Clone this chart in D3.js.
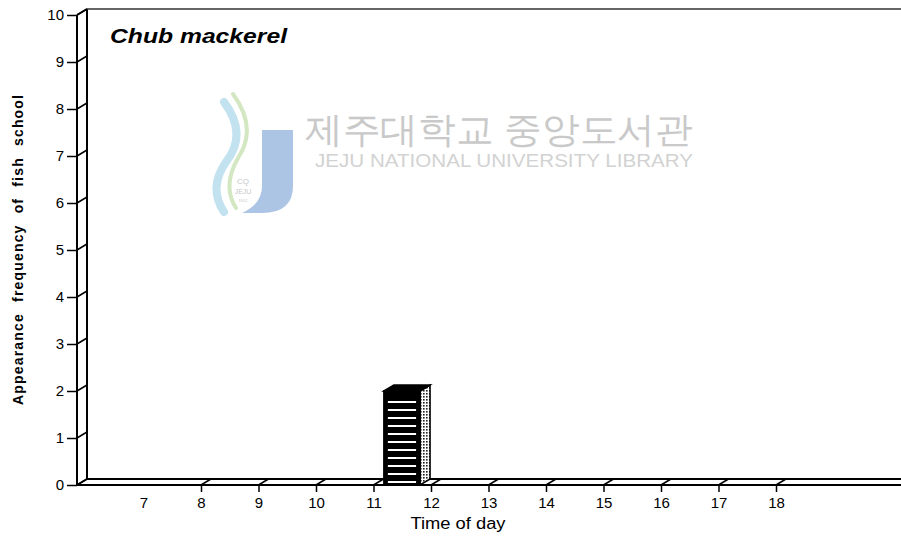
<!DOCTYPE html>
<html>
<head>
<meta charset="utf-8">
<script src="https://cdn.jsdelivr.net/npm/d3@7/dist/d3.min.js"></script>
<style>
  html, body { margin: 0; padding: 0; background: #fff; }
  svg { display: block; }
  text { font-family: "Liberation Sans", Arial, sans-serif; }
</style>
</head>
<body>
<svg id="chart" width="901" height="541"></svg>
<script>
// ---- data ----
const hours = [7, 8, 9, 10, 11, 12, 13, 14, 15, 16, 17, 18];
const counts = [0, 0, 0, 0, 2, 0, 0, 0, 0, 0, 0, 0]; // fish schools per hour bin [h, h+1)
const yTickValues = [0, 1, 2, 3, 4, 5, 6, 7, 8, 9, 10];
const title = "Chub  mackerel";
const xLabel = "Time of day";
const yLabel = "Appearance frequency of fish school";

// ---- layout ----
const W = 901, H = 541;
const svg = d3.select("#chart");
const x0 = 77, yBase = 485;
const depthX = 10, depthY = -6;

const x = d3.scaleLinear().domain([6, 20]).range([86, 891]);
const y = d3.scaleLinear().domain([0, 10]).range([yBase, 15]);

// ---- watermark ----
const wm = svg.append("g").attr("class", "watermark");
wm.append("path")
  .attr("d", "M224,102 Q248,134 226,162 Q208,188 224,212")
  .attr("fill", "none").attr("stroke", "#c3e2f0").attr("stroke-width", 8).attr("stroke-linecap", "round");
wm.append("path")
  .attr("d", "M233,94 Q258,128 238,158 Q222,186 236,208")
  .attr("fill", "none").attr("stroke", "#d2e7c2").attr("stroke-width", 4).attr("stroke-linecap", "round");
wm.append("path")
  .attr("d", "M262,130 L293,130 L293,186 Q293,213 262,213 L242,213 Q262,204 262,186 Z")
  .attr("fill", "#adc5e4");
wm.append("text").attr("x", 243).attr("y", 184).attr("text-anchor", "middle")
  .attr("font-size", 8).attr("fill", "#c8c8c8").text("CQ");
wm.append("text").attr("x", 243).attr("y", 194).attr("text-anchor", "middle")
  .attr("font-size", 7).attr("fill", "#c8c8c8").text("JEJU");
wm.append("text").attr("x", 243).attr("y", 202).attr("text-anchor", "middle")
  .attr("font-size", 4).attr("fill", "#c8c8c8").text("1952");
wm.append("text").attr("x", 305).attr("y", 142)
  .attr("font-family", "'Noto Sans CJK KR', sans-serif")
  .attr("font-size", 36).attr("fill", "#c9c9c9")
  .attr("textLength", 388).attr("lengthAdjust", "spacingAndGlyphs")
  .text("제주대학교 중앙도서관");
wm.append("text").attr("x", 315).attr("y", 167)
  .attr("font-size", 18).attr("fill", "#d2d2d2")
  .attr("textLength", 378).attr("lengthAdjust", "spacingAndGlyphs")
  .text("JEJU NATIONAL UNIVERSITY  LIBRARY");

// ---- patterns ----
const defs = svg.append("defs");
const stripe = defs.append("pattern").attr("id", "stripes")
  .attr("patternUnits", "userSpaceOnUse").attr("width", 8).attr("height", 8);
stripe.append("rect").attr("width", 8).attr("height", 8).attr("fill", "#000");
stripe.append("rect").attr("y", 0).attr("width", 8).attr("height", 2).attr("fill", "#fff");
const dots = defs.append("pattern").attr("id", "dots")
  .attr("patternUnits", "userSpaceOnUse").attr("width", 3).attr("height", 3);
dots.append("rect").attr("width", 3).attr("height", 3).attr("fill", "#fff");
dots.append("rect").attr("width", 1.6).attr("height", 1.6).attr("fill", "#222");

// ---- frame (3-D walls) ----
const frame = svg.append("g").attr("stroke", "#000").attr("fill", "none");
frame.append("line").attr("x1", x0 + depthX).attr("x2", x0 + depthX)
  .attr("y1", y(10) + depthY).attr("y2", yBase + depthY).attr("stroke-width", 2);
frame.append("line").attr("x1", x0 + depthX).attr("x2", W)
  .attr("y1", y(10) + depthY).attr("y2", y(10) + depthY).attr("stroke-width", 1.5).attr("stroke", "#333");
frame.append("line").attr("x1", x0).attr("x2", x0 + depthX)
  .attr("y1", y(10)).attr("y2", y(10) + depthY).attr("stroke-width", 1.5);
frame.append("line").attr("x1", x0 + depthX).attr("x2", W)
  .attr("y1", yBase + depthY).attr("y2", yBase + depthY).attr("stroke-width", 2);
frame.append("line").attr("x1", x0).attr("x2", x0 + depthX)
  .attr("y1", yBase).attr("y2", yBase + depthY).attr("stroke-width", 1.5);
frame.append("line").attr("x1", x0).attr("x2", W)
  .attr("y1", yBase).attr("y2", yBase).attr("stroke-width", 2);
frame.append("line").attr("x1", x0).attr("x2", x0)
  .attr("y1", y(10)).attr("y2", yBase).attr("stroke-width", 2);

// ---- y axis ----
const yAxis = svg.append("g").attr("transform", `translate(${x0},0)`)
  .call(d3.axisLeft(y).tickValues(yTickValues).tickSize(10).tickPadding(3).tickFormat(d3.format("d")));
yAxis.select(".domain").remove();
yAxis.selectAll(".tick line").attr("stroke", "#000").attr("stroke-width", 1.5);
yAxis.selectAll(".tick text").attr("font-size", 15).attr("fill", "#000")
  .attr("font-family", "'Liberation Sans Narrow', 'Liberation Sans', Arial, sans-serif");
svg.append("g").selectAll("line").data(yTickValues).join("line")
  .attr("x1", x0).attr("y1", d => y(d))
  .attr("x2", x0 + depthX).attr("y2", d => y(d) + depthY)
  .attr("stroke", "#000").attr("stroke-width", 1.5);

// ---- x axis ----
const xAxis = svg.append("g").attr("transform", `translate(0,${yBase})`)
  .call(d3.axisBottom(x).tickValues(hours).tickSize(7).tickPadding(5).tickFormat(d3.format("d")));
xAxis.select(".domain").remove();
xAxis.selectAll(".tick line").attr("stroke", "#000").attr("stroke-width", 1.5)
  .attr("opacity", d => d === 7 ? 0 : 1);
xAxis.selectAll(".tick text").attr("font-size", 15).attr("fill", "#000")
  .attr("font-family", "'Liberation Sans', Arial, sans-serif");
svg.append("g").selectAll("line").data(hours.filter(h => h !== 7)).join("line")
  .attr("x1", d => x(d)).attr("y1", yBase)
  .attr("x2", d => x(d) + depthX).attr("y2", yBase + depthY)
  .attr("stroke", "#000").attr("stroke-width", 1.5);

// ---- bars (3-D) ----
const barData = hours.map((h, i) => ({ h, v: counts[i] })).filter(d => d.v > 0);
const bars = svg.append("g").selectAll("g").data(barData).join("g");
const bl = d => x(d.h + 0.18), br = d => x(d.h + 0.81);
bars.append("path")
  .attr("d", d => `M${br(d)},${y(d.v)} L${br(d) + depthX},${y(d.v) + depthY} L${br(d) + depthX},${yBase + depthY} L${br(d)},${yBase} Z`)
  .attr("fill", "url(#dots)").attr("stroke", "#000").attr("stroke-width", 1.5);
bars.append("path")
  .attr("d", d => `M${bl(d)},${y(d.v)} L${bl(d) + depthX},${y(d.v) + depthY} L${br(d) + depthX},${y(d.v) + depthY} L${br(d)},${y(d.v)} Z`)
  .attr("fill", "#000").attr("stroke", "#000").attr("stroke-width", 1.5);
bars.append("rect")
  .attr("x", d => bl(d)).attr("y", d => y(d.v))
  .attr("width", d => br(d) - bl(d)).attr("height", d => yBase - y(d.v))
  .attr("fill", "#000").attr("stroke", "#000").attr("stroke-width", 1.5);
bars.append("rect")
  .attr("x", d => bl(d) + 4).attr("y", d => y(d.v) + 8)
  .attr("width", d => br(d) - bl(d) - 8).attr("height", d => yBase - y(d.v) - 8)
  .attr("fill", "url(#stripes)")
  .attr("transform", "translate(0,1)");

// ---- texts ----
svg.append("text").attr("x", 110).attr("y", 43)
  .attr("font-size", 21).attr("font-style", "italic").attr("font-weight", "bold")
  .attr("textLength", 177).attr("lengthAdjust", "spacingAndGlyphs")
  .attr("fill", "#000").text(title);

svg.append("text").attr("x", 458).attr("y", 529).attr("text-anchor", "middle")
  .attr("font-size", 16).attr("fill", "#000")
  .attr("textLength", 95).attr("lengthAdjust", "spacingAndGlyphs")
  .text(xLabel);

svg.append("text")
  .attr("transform", "translate(23,250) rotate(-90)")
  .attr("text-anchor", "middle")
  .attr("font-size", 14).attr("font-weight", "bold").attr("fill", "#000")
  .attr("word-spacing", 6)
  .attr("textLength", 310).attr("lengthAdjust", "spacing")
  .text(yLabel);
</script>
</body>
</html>
